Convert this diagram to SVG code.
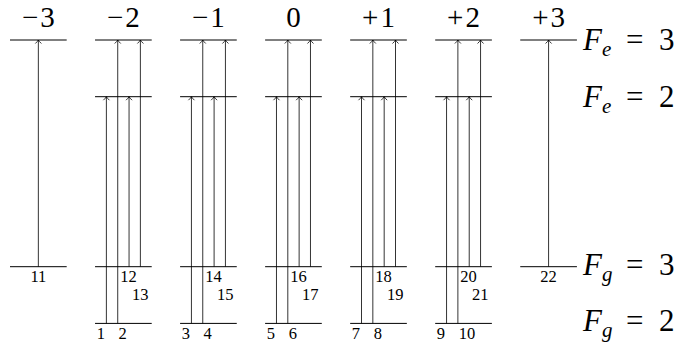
<svg xmlns="http://www.w3.org/2000/svg" width="682" height="349" viewBox="0 0 682 349" font-family="Liberation Serif, serif">
<style>
.lv{stroke:#000;stroke-width:1;fill:none}
.ar{stroke:#000;stroke-width:0.8;fill:none;marker-end:url(#ah)}
.top{font-size:29px;text-anchor:middle}
.num{font-size:16.5px}
.mid{text-anchor:middle}
.end{text-anchor:end}
.fl{font-size:31px}
.it{font-style:italic}
.sub{font-style:italic;font-size:21px}
</style>
<defs>
<marker id="ah" viewBox="-5 -5 10 10" markerWidth="10" markerHeight="10" markerUnits="userSpaceOnUse" refX="0" refY="0" orient="auto">
<path d="M-3.5,-3 Q-1.2,-0.6 0,0 Q-1.2,0.6 -3.5,3" fill="none" stroke="#000" stroke-width="0.8"/>
</marker>
</defs>
<g id="m-3">
<line class="lv" x1="10" y1="40" x2="66.69" y2="40"/>
<line class="lv" x1="10" y1="266.7" x2="66.69" y2="266.7"/>
<text class="top" font-family="Liberation Serif" x="38.35" y="27">−<tspan dx="2">3</tspan></text>
</g>
<g id="m-2">
<line class="lv" x1="95.04" y1="40" x2="151.73" y2="40"/>
<line class="lv" x1="95.04" y1="96.7" x2="151.73" y2="96.7"/>
<line class="lv" x1="95.04" y1="266.7" x2="151.73" y2="266.7"/>
<line class="lv" x1="95.04" y1="323.4" x2="151.73" y2="323.4"/>
<text class="top" font-family="Liberation Serif" x="123.39" y="27">−<tspan dx="2">2</tspan></text>
</g>
<g id="m-1">
<line class="lv" x1="180.08" y1="40" x2="236.77" y2="40"/>
<line class="lv" x1="180.08" y1="96.7" x2="236.77" y2="96.7"/>
<line class="lv" x1="180.08" y1="266.7" x2="236.77" y2="266.7"/>
<line class="lv" x1="180.08" y1="323.4" x2="236.77" y2="323.4"/>
<text class="top" font-family="Liberation Serif" x="208.43" y="27">−<tspan dx="2">1</tspan></text>
</g>
<g id="m0">
<line class="lv" x1="265.12" y1="40" x2="321.81" y2="40"/>
<line class="lv" x1="265.12" y1="96.7" x2="321.81" y2="96.7"/>
<line class="lv" x1="265.12" y1="266.7" x2="321.81" y2="266.7"/>
<line class="lv" x1="265.12" y1="323.4" x2="321.81" y2="323.4"/>
<text class="top" font-family="Liberation Serif" x="293.47" y="27">0</text>
</g>
<g id="m+1">
<line class="lv" x1="350.16" y1="40" x2="406.85" y2="40"/>
<line class="lv" x1="350.16" y1="96.7" x2="406.85" y2="96.7"/>
<line class="lv" x1="350.16" y1="266.7" x2="406.85" y2="266.7"/>
<line class="lv" x1="350.16" y1="323.4" x2="406.85" y2="323.4"/>
<text class="top" font-family="Liberation Serif" x="378.51" y="27">+<tspan dx="2">1</tspan></text>
</g>
<g id="m+2">
<line class="lv" x1="435.2" y1="40" x2="491.89" y2="40"/>
<line class="lv" x1="435.2" y1="96.7" x2="491.89" y2="96.7"/>
<line class="lv" x1="435.2" y1="266.7" x2="491.89" y2="266.7"/>
<line class="lv" x1="435.2" y1="323.4" x2="491.89" y2="323.4"/>
<text class="top" font-family="Liberation Serif" x="463.55" y="27">+<tspan dx="2">2</tspan></text>
</g>
<g id="m+3">
<line class="lv" x1="520.24" y1="40" x2="576.93" y2="40"/>
<line class="lv" x1="520.24" y1="266.7" x2="576.93" y2="266.7"/>
<text class="top" font-family="Liberation Serif" x="548.59" y="27">+<tspan dx="2">3</tspan></text>
</g>
<g id="level-labels" font-family="Liberation Serif">
<text class="fl" y="50"><tspan class="it" x="583">F</tspan><tspan class="sub" x="602" dy="6">e</tspan><tspan x="626" dy="-6">=</tspan><tspan x="659">3</tspan></text>
<text class="fl" y="106.7"><tspan class="it" x="583">F</tspan><tspan class="sub" x="602" dy="6">e</tspan><tspan x="626" dy="-6">=</tspan><tspan x="659">2</tspan></text>
<text class="fl" y="274.7"><tspan class="it" x="583">F</tspan><tspan class="sub" x="602" dy="6">g</tspan><tspan x="626" dy="-6">=</tspan><tspan x="659">3</tspan></text>
<text class="fl" y="331.4"><tspan class="it" x="583">F</tspan><tspan class="sub" x="602" dy="6">g</tspan><tspan x="626" dy="-6">=</tspan><tspan x="659">2</tspan></text>
</g>
<g id="connectors">
<line class="ar" x1="38.35" y1="266.7" x2="38.35" y2="40"/>
<line class="ar" x1="106.39" y1="323.4" x2="106.39" y2="96.7"/>
<line class="ar" x1="117.72" y1="323.4" x2="117.72" y2="40"/>
<line class="ar" x1="129.06" y1="266.7" x2="129.06" y2="96.7"/>
<line class="ar" x1="140.39" y1="266.7" x2="140.39" y2="40"/>
<line class="ar" x1="191.43" y1="323.4" x2="191.43" y2="96.7"/>
<line class="ar" x1="202.76" y1="323.4" x2="202.76" y2="40"/>
<line class="ar" x1="214.1" y1="266.7" x2="214.1" y2="96.7"/>
<line class="ar" x1="225.43" y1="266.7" x2="225.43" y2="40"/>
<line class="ar" x1="276.47" y1="323.4" x2="276.47" y2="96.7"/>
<line class="ar" x1="287.8" y1="323.4" x2="287.8" y2="40"/>
<line class="ar" x1="299.14" y1="266.7" x2="299.14" y2="96.7"/>
<line class="ar" x1="310.47" y1="266.7" x2="310.47" y2="40"/>
<line class="ar" x1="361.51" y1="323.4" x2="361.51" y2="96.7"/>
<line class="ar" x1="372.84" y1="323.4" x2="372.84" y2="40"/>
<line class="ar" x1="384.18" y1="266.7" x2="384.18" y2="96.7"/>
<line class="ar" x1="395.51" y1="266.7" x2="395.51" y2="40"/>
<line class="ar" x1="446.55" y1="323.4" x2="446.55" y2="96.7"/>
<line class="ar" x1="457.88" y1="323.4" x2="457.88" y2="40"/>
<line class="ar" x1="469.22" y1="266.7" x2="469.22" y2="96.7"/>
<line class="ar" x1="480.55" y1="266.7" x2="480.55" y2="40"/>
<line class="ar" x1="548.59" y1="266.7" x2="548.59" y2="40"/>
</g>
<g id="transition-labels" font-family="Liberation Serif">
<text class="num mid" x="38.35" y="281.5">11</text>
<text class="num end" x="104.9" y="338.5">1</text>
<text class="num" x="118.6" y="338.5">2</text>
<text class="num" x="120.2" y="282">12</text>
<text class="num" x="131.9" y="299.5">13</text>
<text class="num end" x="189.9" y="338.5">3</text>
<text class="num" x="203.6" y="338.5">4</text>
<text class="num" x="205.2" y="282">14</text>
<text class="num" x="216.9" y="299.5">15</text>
<text class="num end" x="275" y="338.5">5</text>
<text class="num" x="288.7" y="338.5">6</text>
<text class="num" x="290.3" y="282">16</text>
<text class="num" x="302" y="299.5">17</text>
<text class="num end" x="360" y="338.5">7</text>
<text class="num" x="373.7" y="338.5">8</text>
<text class="num" x="375.3" y="282">18</text>
<text class="num" x="387" y="299.5">19</text>
<text class="num end" x="445" y="338.5">9</text>
<text class="num" x="458.7" y="338.5">10</text>
<text class="num" x="460.3" y="282">20</text>
<text class="num" x="472" y="299.5">21</text>
<text class="num mid" x="548.59" y="281.5">22</text>
</g>
</svg>
